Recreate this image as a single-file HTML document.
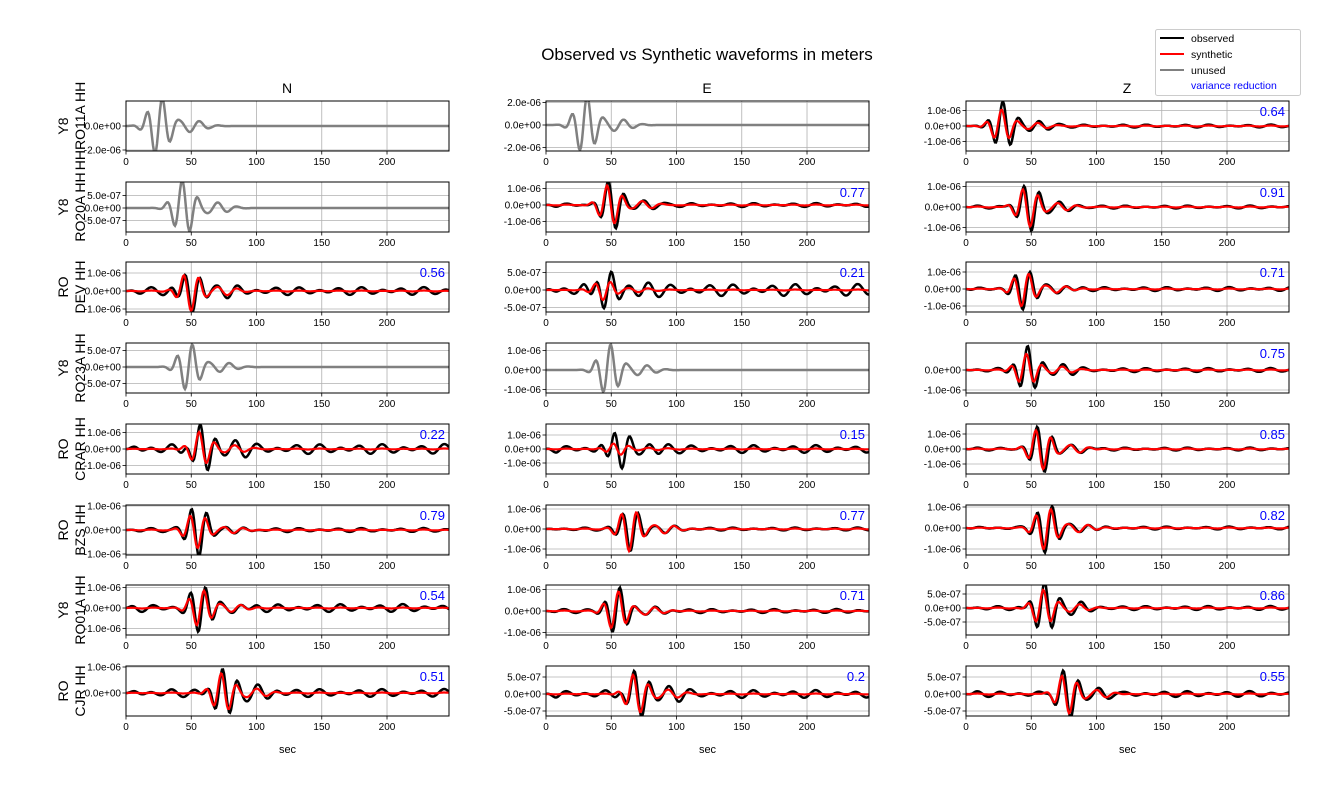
<!DOCTYPE html>
<html><head><meta charset="utf-8"><style>
html,body{margin:0;padding:0;background:#fff;}
svg{display:block;font-family:"Liberation Sans","DejaVu Sans",sans-serif;}
</style></head><body>
<svg id="s" width="1329" height="785" viewBox="0 0 1329 785" xmlns="http://www.w3.org/2000/svg">
<rect width="1329" height="785" fill="#fff"/>
<text x="707" y="60" font-size="17" text-anchor="middle">Observed vs Synthetic waveforms in meters</text>
<text x="287" y="93" font-size="14" text-anchor="middle">N</text>
<text x="707" y="93" font-size="14" text-anchor="middle">E</text>
<text x="1127" y="93" font-size="14" text-anchor="middle">Z</text>
<g id="g"></g>
<rect x="1155.5" y="29.5" width="145" height="66" rx="2" fill="#fff" stroke="#ccc"/>
<line x1="1160" y1="38" x2="1184" y2="38" stroke="#000" stroke-width="2"/>
<line x1="1160" y1="54" x2="1184" y2="54" stroke="#f00" stroke-width="2"/>
<line x1="1160" y1="70" x2="1184" y2="70" stroke="#808080" stroke-width="2"/>
<text x="1191" y="42" font-size="10.5">observed</text>
<text x="1191" y="58" font-size="10.5">synthetic</text>
<text x="1191" y="74" font-size="10.5">unused</text>
<text x="1191" y="89" font-size="10.5" fill="#00f">variance reduction</text>
</svg>
<script>
(function(){
var cols=[126,546,966], W=323, tmax=247.5;
var rowsTop=[101,182,262,343,424,505,585,666], H=50;
var labels=[["Y8","HHRO11A HH"],["Y8","RO20A HH"],["RO","DEV HH"],["Y8","RO23A HH"],["RO","CRAR HH"],["RO","BZS HH"],["Y8","RO01A HH"],["RO","CJR HH"]];
var P=[
 [[126,12,[[0,"0.0e+00"],[-2,"-2.0e-06"]],1,25,30,1,0,""],[125,11.3,[[2,"2.0e-06"],[0,"0.0e+00"],[-2,"-2.0e-06"]],1,30,30,1,0,""],[126,15.5,[[1,"1.0e-06"],[0,"0.0e+00"],[-1,"-1.0e-06"]],0,28,24,1.5,16,"0.64"]],
 [[208,25,[[0.5,"5.0e-07"],[0,"0.0e+00"],[-0.5,"-5.0e-07"]],1,44,28,1,0,""],[205,16.5,[[1,"1.0e-06"],[0,"0.0e+00"],[-1,"-1.0e-06"]],0,50,24,2,20,"0.77"],[207,20.5,[[1,"1.0e-06"],[0,"0.0e+00"],[-1,"-1.0e-06"]],0,48,24,1.5,20,"0.91"]],
 [[291,18,[[1,"1.0e-06"],[0,"0.0e+00"],[-1,"-1.0e-06"]],0,50,22,4,20,"0.56"],[290,35,[[0.5,"5.0e-07"],[0,"0.0e+00"],[-0.5,"-5.0e-07"]],0,45,20,6,10,"0.21"],[289,17,[[1,"1.0e-06"],[0,"0.0e+00"],[-1,"-1.0e-06"]],0,45,22,2,18,"0.71"]],
 [[367,33,[[0.5,"5.0e-07"],[0,"0.0e+00"],[-0.5,"-5.0e-07"]],1,48,24,1,0,""],[370,19.5,[[1,"1.0e-06"],[0,"0.0e+00"],[-1,"-1.0e-06"]],1,48,26,1,0,""],[370,20,[[0,"0.0e+00"],[-1,"-1.0e-06"]],0,47,24,2,16,"0.75"]],
 [[449,16.5,[[1,"1.0e-06"],[0,"0.0e+00"],[-1,"-1.0e-06"]],0,58,24,5,17,"0.22"],[449,14,[[1,"1.0e-06"],[0,"0.0e+00"],[-1,"-1.0e-06"]],0,55,20,4,6,"0.15"],[449,15,[[1,"1.0e-06"],[0,"0.0e+00"],[-1,"-1.0e-06"]],0,58,24,1.5,21,"0.85"]],
 [[530,24,[[1,"1.0e-06"],[0,"0.0e+00"],[-1,"-1.0e-06"]],0,55,26,2,18,"0.79"],[529,20,[[1,"1.0e-06"],[0,"0.0e+00"],[-1,"-1.0e-06"]],0,65,22,1.5,22,"0.77"],[528,21,[[1,"1.0e-06"],[0,"0.0e+00"],[-1,"-1.0e-06"]],0,62,26,1.5,22,"0.82"]],
 [[608,20.5,[[1,"1.0e-06"],[0,"0.0e+00"],[-1,"-1.0e-06"]],0,58,26,4,19,"0.54"],[611,21.5,[[1,"1.0e-06"],[0,"0.0e+00"],[-1,"-1.0e-06"]],0,55,24,2,20,"0.71"],[608,28,[[0.5,"5.0e-07"],[0,"0.0e+00"],[-0.5,"-5.0e-07"]],0,60,26,2,18,"0.86"]],
 [[693,26,[[1,"1.0e-06"],[0,"0.0e+00"]],0,75,26,4,20,"0.51"],[694,34,[[0.5,"5.0e-07"],[0,"0.0e+00"],[-0.5,"-5.0e-07"]],0,70,24,4,20,"0.2"],[694,34,[[0.5,"5.0e-07"],[0,"0.0e+00"],[-0.5,"-5.0e-07"]],0,78,24,3,20,"0.55"]]
];
var out="", cid=0;
function wave(t,t0,A,N,ph,shift){
  var d=t-t0-shift;
  var v=A*Math.exp(-Math.pow(d/10,2))*Math.sin(2*Math.PI*d/12+ph);
  v+=A*0.2*Math.exp(-Math.pow((d-25)/14,2))*Math.sin(2*Math.PI*d/15+ph+1);
  if(N>0){var rr=Math.min(1,t/8);
    v+=N*rr*(0.6*Math.sin(2*Math.PI*t/16+ph*3)+0.4*Math.sin(2*Math.PI*t/23.5+ph*5+1));}
  return v;
}
function mkpath(x0,zy,p,ph,A,N,shift){var d="";for(var i=0;i<=W;i+=1){var t=i*tmax/W;var y=zy-wave(t,p[4],A,N,ph,shift);d+=(i?"L":"M")+(x0+i).toFixed(1)+" "+y.toFixed(1);}return d;}
for(var r=0;r<8;r++){
  var y0=rowsTop[r];
  var cy=y0+H/2;
  out+='<text transform="translate(68,'+cy+') rotate(-90)" font-size="14" text-anchor="middle">'+labels[r][0]+'</text>';
  out+='<text transform="translate(85,'+cy+') rotate(-90)" font-size="14" text-anchor="middle">'+labels[r][1]+'</text>';
  for(var c=0;c<3;c++){
    var x0=cols[c], p=P[r][c], zy=p[0], s=p[1];
    cid++;
    out+='<clipPath id="c'+cid+'"><rect x="'+x0+'" y="'+y0+'" width="'+W+'" height="'+H+'"/></clipPath>';
    for(var k=0;k<=4;k++){var gx=x0+k*50*W/tmax;out+='<line x1="'+gx+'" y1="'+y0+'" x2="'+gx+'" y2="'+(y0+H)+'" stroke="#b0b0b0" stroke-width="0.8"/>';
      out+='<line x1="'+gx+'" y1="'+(y0+H)+'" x2="'+gx+'" y2="'+(y0+H+3.5)+'" stroke="#000" stroke-width="0.8"/>';
      out+='<text x="'+gx+'" y="'+(y0+H+14)+'" font-size="10" text-anchor="middle">'+(k*50)+'</text>';}
    for(var q=0;q<p[2].length;q++){var tk=p[2][q];var ty=zy-tk[0]*s;
      out+='<line x1="'+x0+'" y1="'+ty+'" x2="'+(x0+W)+'" y2="'+ty+'" stroke="#b0b0b0" stroke-width="0.8"/>';
      out+='<line x1="'+(x0-3.5)+'" y1="'+ty+'" x2="'+x0+'" y2="'+ty+'" stroke="#000" stroke-width="0.8"/>';
      out+='<text x="'+(x0-5)+'" y="'+(ty+3.5)+'" font-size="10" text-anchor="end" fill="#000" stroke="#fff" stroke-width="0" >'+tk[1]+'</text>';}
    var ph=(r*3+c)*0.7;
    out+='<g clip-path="url(#c'+cid+')">';
    if(p[3]){out+='<path d="'+mkpath(x0,zy,p,ph,p[5],0,0)+'" fill="none" stroke="#808080" stroke-width="2.5"/>';}
    else{out+='<path d="'+mkpath(x0,zy,p,ph,p[5],p[6],0)+'" fill="none" stroke="#000" stroke-width="2.5"/>';
      out+='<path d="'+mkpath(x0,zy,p,ph,p[7],0.5,-1)+'" fill="none" stroke="#f00" stroke-width="2.2"/>';}
    out+='</g>';
    out+='<rect x="'+x0+'" y="'+y0+'" width="'+W+'" height="'+H+'" fill="none" stroke="#000" stroke-width="1"/>';
    if(p[8])out+='<text x="'+(x0+W-4)+'" y="'+(y0+15)+'" font-size="13" fill="#00f" text-anchor="end">'+p[8]+'</text>';
  }
}
for(var c2=0;c2<3;c2++)out+='<text x="'+(cols[c2]+W/2)+'" y="753" font-size="11" text-anchor="middle">sec</text>';
document.getElementById("g").innerHTML=out;
})();
</script>
</body></html>
